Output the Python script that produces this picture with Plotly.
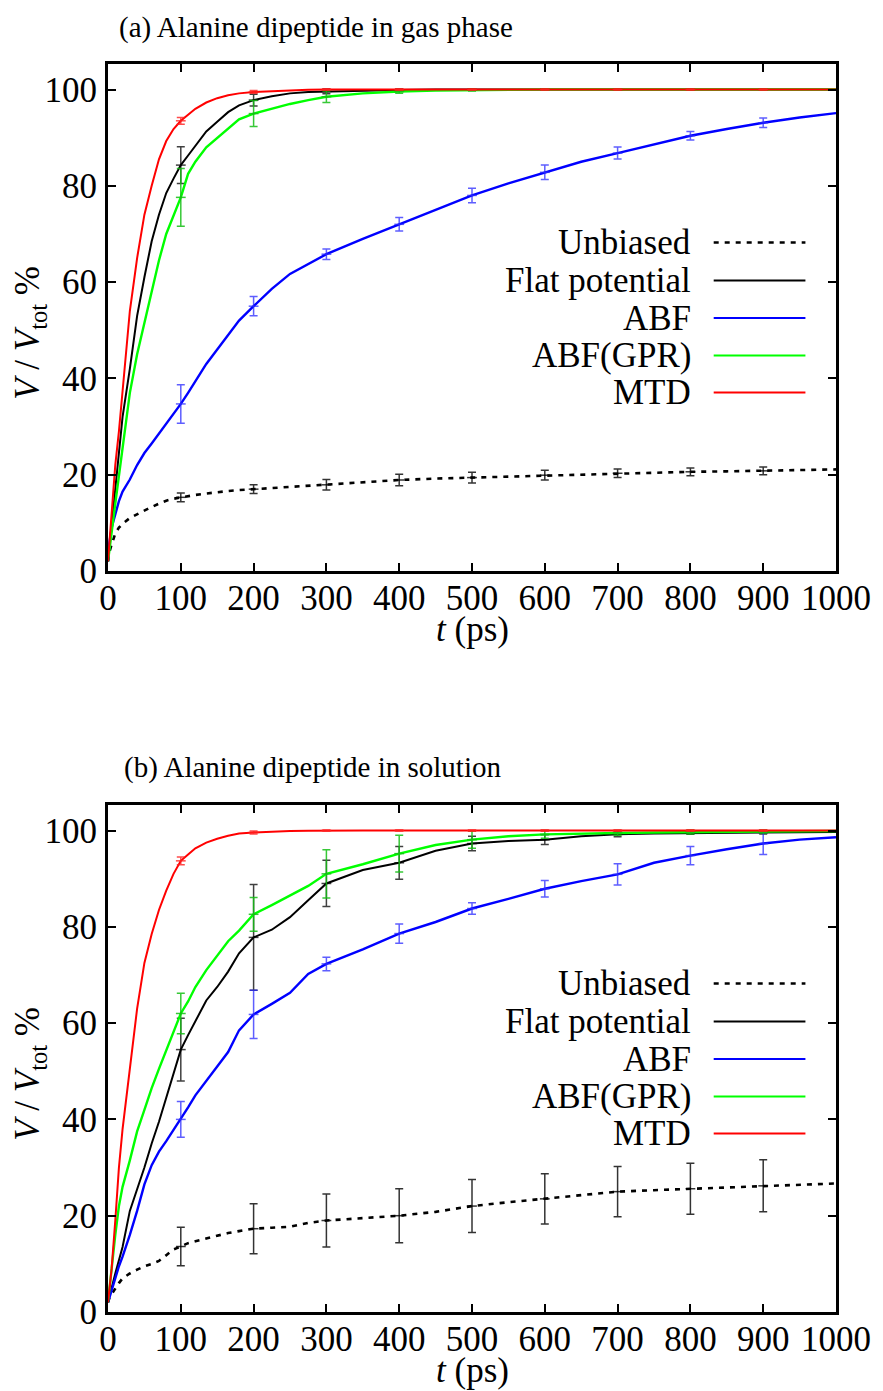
import plotly.graph_objects as go

# ---------------------------------------------------------------- data
# simulation time (ps) at which the explored volume was sampled
t_grid = [0, 2, 5, 10, 15, 20, 30, 40, 50, 60, 70, 80, 90, 100, 110, 120, 135, 150,
          165, 180, 200, 225, 250, 275, 300, 350, 400, 450, 500, 550, 600, 650, 700,
          750, 800, 850, 900, 950, 1000]

# (a) gas phase: explored volume V / V_tot in %
gas_unbiased = [2, 4, 5.5, 7.8, 9, 9.8, 11, 11.8, 12.6, 13.3, 14, 14.6, 15, 15.3, 15.6, 15.8,
                16.1, 16.4, 16.6, 16.8, 17, 17.3, 17.5, 17.7, 17.9, 18.4, 18.9, 19.2, 19.4,
                19.7, 19.9, 20.1, 20.3, 20.5, 20.6, 20.7, 20.8, 21.0, 21.1]
gas_flat = [2, 5, 10, 17, 24, 32, 42, 53, 61, 68.5, 74, 78.5, 81.5, 84.3, 86.3, 88.2, 91.3,
            93.3, 95.3, 96.7, 97.8, 98.6, 99.2, 99.5, 99.6, 99.8, 99.9, 100, 100, 100, 100,
            100, 100, 100, 100, 100, 100, 100, 100]
gas_abf = [2, 6, 9, 12, 14.5, 16.5, 19, 22, 24.5, 26.5, 28.5, 30.5, 32.6, 34.7, 37, 39.5, 43,
           46, 49, 52, 55, 58.6, 61.7, 63.8, 65.8, 69, 72, 75, 78, 80.5, 82.8, 85, 86.8,
           88.6, 90.4, 91.8, 93.1, 94.2, 95.1]
gas_gpr = [2, 4, 8, 14, 20, 26, 37, 45, 51.5, 58, 64.5, 70, 74, 77.6, 82.5, 85, 88, 90, 92,
           93.8, 95, 96, 97, 97.8, 98.5, 99.2, 99.6, 99.8, 99.9, 100, 100, 100, 100, 100,
           100, 100, 100, 100, 100]
gas_mtd = [2, 6, 13, 22, 29, 37, 54, 65, 74, 80, 85.5, 89.3, 91.8, 93.5, 94.8, 96, 97.3, 98.2,
           98.8, 99.2, 99.5, 99.7, 99.85, 99.95, 100, 100, 100, 100, 100, 100, 100, 100, 100,
           100, 100, 100, 100, 100, 100]

# (b) solution
sol_unbiased = [2, 3, 3.7, 5, 6, 7, 8, 8.8, 9.5, 10, 10.6, 11.8, 13, 13.6, 14.3, 14.7, 15.3,
                15.9, 16.4, 16.8, 17.3, 17.5, 17.7, 18.5, 19, 19.5, 20, 20.8, 22, 22.8, 23.5,
                24.3, 25, 25.3, 25.6, 25.9, 26.2, 26.4, 26.7]
sol_flat = [2, 3.5, 5, 8, 11, 13.5, 21, 25.5, 30, 35, 39.5, 44.5, 49.5, 54.5, 57.5, 60.5, 64.7,
            67.5, 70.7, 74.5, 77.8, 79.4, 82, 85.5, 89, 91.8, 93.3, 95.8, 97.3, 97.8, 98.1,
            98.8, 99.2, 99.4, 99.5, 99.55, 99.6, 99.65, 99.7]
sol_abf = [2, 3, 4.5, 7.5, 9.5, 11.5, 16, 21, 26.5, 30.5, 33.3, 35.5, 37.8, 40, 42.5, 45, 48,
           51, 54, 58.5, 61.8, 64, 66.3, 70.2, 72.3, 75.3, 78.6, 81, 83.8, 85.8, 87.9, 89.5,
           90.9, 93.3, 94.8, 96.1, 97.3, 98.1, 98.6]
sol_gpr = [2, 5, 9, 16, 22, 26, 31.5, 37.5, 42, 46.5, 50.5, 54.3, 58.5, 62, 64.5, 67.5, 71, 74,
           77, 79.2, 82.6, 84.5, 86.5, 88.5, 91, 93, 95.2, 97, 98.1, 98.8, 99.2, 99.4, 99.5,
           99.6, 99.7, 99.75, 99.8, 99.85, 99.9]
sol_mtd = [2, 5, 9, 19, 30, 38, 51, 63, 72.5, 78.5, 83.5, 87.5, 91, 93.7, 95, 96.3, 97.5, 98.3,
           98.9, 99.4, 99.6, 99.8, 99.9, 99.95, 100, 100, 100, 100, 100, 100, 100, 100, 100,
           100, 100, 100, 100, 100, 100]

# standard deviations over the independent runs, every 100 ps
bar_t = [100, 200, 300, 400, 500, 600, 700, 800, 900]
gas_unbiased_err = [0.9, 0.9, 1.1, 1.2, 1.1, 1.0, 0.9, 0.8, 0.8]
gas_flat_err = [3.8, 1.2, 0.5, 0.2, 0.1, 0.1, 0.1, 0.1, 0.1]
gas_abf_err = [4.0, 2.0, 1.1, 1.4, 1.5, 1.5, 1.25, 0.9, 1.0]
gas_gpr_err = [6.0, 2.7, 1.2, 0.4, 0.2, 0.1, 0.1, 0.1, 0.1]
gas_mtd_err = [0.7, 0.3, 0.1, 0.1, 0.1, 0.1, 0.1, 0.1, 0.1]

sol_unbiased_err = [4.0, 5.2, 5.5, 5.6, 5.5, 5.2, 5.2, 5.3, 5.4]
sol_flat_err = [6.5, 11.0, 4.8, 3.4, 1.5, 1.0, 0.5, 0.3, 0.3]
sol_abf_err = [3.7, 5.0, 1.4, 2.0, 1.2, 1.7, 2.2, 1.9, 2.3]
sol_gpr_err = [4.2, 3.5, 5.0, 3.8, 1.8, 0.8, 0.5, 0.4, 0.3]
sol_mtd_err = [0.8, 0.3, 0.1, 0.1, 0.1, 0.1, 0.1, 0.1, 0.1]

x_ticks = list(range(0, 1001, 100))
y_ticks = list(range(0, 101, 20))

# ---------------------------------------------------------------- styling
FONT = "Times New Roman, Liberation Serif, DejaVu Serif, serif"
TEXT_SIZE = 35
series_style = [
    ("Unbiased", "#000000", "rgba(0,0,0,0.8)", "5px,6px", 2.6),
    ("Flat potential", "#000000", "rgba(0,0,0,0.75)", "solid", 2.0),
    ("ABF", "#0000ff", "rgba(40,40,255,0.75)", "solid", 2.4),
    ("ABF(GPR)", "#00ff00", "rgba(20,190,20,0.85)", "solid", 2.4),
    ("MTD", "#ff0000", "rgba(255,30,30,0.8)", "solid", 2.0),
]

panels = [
    ("x", "y", [gas_unbiased, gas_flat, gas_abf, gas_gpr, gas_mtd],
     [gas_unbiased_err, gas_flat_err, gas_abf_err, gas_gpr_err, gas_mtd_err]),
    ("x2", "y2", [sol_unbiased, sol_flat, sol_abf, sol_gpr, sol_mtd],
     [sol_unbiased_err, sol_flat_err, sol_abf_err, sol_gpr_err, sol_mtd_err]),
]

fig = go.Figure()
for xa, ya, curves, errs in panels:
    for (name, col, bar_col, dash, lw), vals, err in zip(series_style, curves, errs):
        fig.add_trace(go.Scatter(
            x=t_grid, y=vals, mode="lines", name=name, showlegend=False,
            line=dict(color=col, width=lw, dash=dash), xaxis=xa, yaxis=ya))
        # error bars sit on the curve value at each 100 ps mark
        centre = [vals[t_grid.index(tb)] for tb in bar_t]
        fig.add_trace(go.Scatter(
            x=bar_t, y=centre, mode="markers", showlegend=False, hoverinfo="skip",
            marker=dict(symbol="line-ew", size=7, color=bar_col,
                        line=dict(color=bar_col, width=1.5)),
            error_y=dict(type="data", array=err, visible=True, color=bar_col,
                         thickness=1.5, width=4),
            xaxis=xa, yaxis=ya))

# ---------------------------------------------------------------- axes
H_DOM = 507 / 1248
axis_common = dict(
    showline=True, linecolor="black", linewidth=3, mirror="ticks",
    ticks="inside", ticklen=8, tickwidth=1.5, tickcolor="black",
    showgrid=False, zeroline=False,
    tickfont=dict(family=FONT, size=TEXT_SIZE, color="black"),
)
xaxis_common = dict(axis_common, range=[0, 1000], tickmode="array", tickvals=x_ticks,
                    ticklabelstandoff=-6)
yaxis_common = dict(axis_common, range=[0, 105.3], tickmode="array", tickvals=y_ticks,
                    ticklabelstandoff=1)

fig.update_layout(
    xaxis=dict(xaxis_common, domain=[0, 1], anchor="y"),
    yaxis=dict(yaxis_common, domain=[1 - H_DOM, 1], anchor="x"),
    xaxis2=dict(xaxis_common, domain=[0, 1], anchor="y2"),
    yaxis2=dict(yaxis_common, domain=[0, H_DOM], anchor="x2"),
)

# ---------------------------------------------------------------- labels
ann = []
shapes = []
legend_rows = [0.648, 0.573, 0.499, 0.425, 0.352]
for xd, yd, title, tx, ty in [("x domain", "y domain", "(a) Alanine dipeptide in gas phase", 0.0125, 1.0296),
                              ("x2 domain", "y2 domain", "(b) Alanine dipeptide in solution", 0.019, 0.4359)]:
    ann.append(dict(text=title, xref="paper", yref="paper", x=tx, y=ty,
                    xanchor="left", yanchor="middle", showarrow=False,
                    font=dict(family=FONT, size=29, color="black")))
    ann.append(dict(text="<i>t</i> (ps)", xref=xd, yref=yd, x=0.5, y=-0.116,
                    xanchor="center", yanchor="middle", showarrow=False,
                    font=dict(family=FONT, size=TEXT_SIZE, color="black")))
    ann.append(dict(text="<i>V</i> / <i>V</i><sub>tot</sub> %", xref=xd, yref=yd,
                    x=-0.107, y=0.47, textangle=-90, xanchor="center", yanchor="middle",
                    showarrow=False, font=dict(family=FONT, size=TEXT_SIZE, color="black")))
    # key: label on the left, line sample on the right
    for (name, col, bar_col, dash, lw), ry in zip(series_style, legend_rows):
        ann.append(dict(text=name, xref=xd, yref=yd, x=0.804, y=ry, xanchor="right",
                        yanchor="middle", showarrow=False,
                        font=dict(family=FONT, size=TEXT_SIZE, color="black")))
        shapes.append(dict(type="line", xref=xd, yref=yd, x0=0.832, x1=0.958, y0=ry, y1=ry,
                           line=dict(color=col, width=2 if dash == "solid" else 2.4,
                                     dash=dash)))

fig.update_layout(
    annotations=ann, shapes=shapes,
    width=883, height=1391,
    margin=dict(l=108, r=45, t=64, b=79),
    paper_bgcolor="white", plot_bgcolor="white",
    showlegend=False,
    font=dict(family=FONT, color="black"),
)

fig.write_html("out.html")
